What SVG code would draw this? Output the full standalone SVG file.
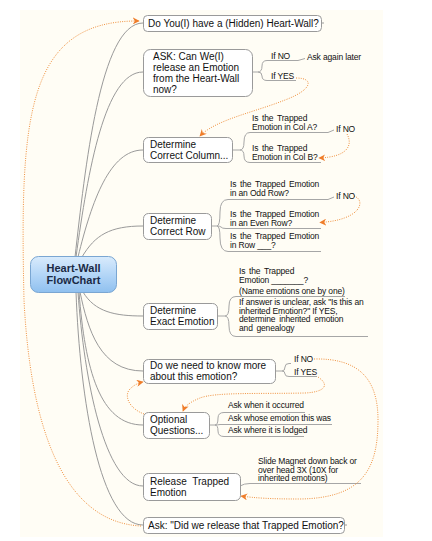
<svg xmlns="http://www.w3.org/2000/svg" width="432" height="541" viewBox="0 0 432 541">
<defs>
<linearGradient id="cg" x1="0" y1="0" x2="0" y2="1">
<stop offset="0" stop-color="#d9ebfc"/>
<stop offset="0.5" stop-color="#b4d6f7"/>
<stop offset="1" stop-color="#8fc0ef"/>
</linearGradient>
<marker id="oa" viewBox="0 0 10 10" refX="9" refY="5" markerWidth="7" markerHeight="7" markerUnits="userSpaceOnUse" orient="auto">
<path d="M0,0 L10,5 L0,10 L3,5 Z" fill="#ef7d2a"/>
</marker>
</defs>
<style>
.box{fill:#ffffff;stroke:#9a9a9a;stroke-width:1}
.nt{font-family:"Liberation Sans",Arial,sans-serif;font-size:10px;fill:#111}
.st{font-family:"Liberation Sans",Arial,sans-serif;font-size:8.5px;fill:#111;letter-spacing:-0.15px}
.ln{fill:none;stroke:#9a9a9a;stroke-width:1}
.ul{fill:none;stroke:#a6a6a6;stroke-width:1}
.od{fill:none;stroke:#f0913f;stroke-width:1;stroke-dasharray:1 1.3}
.ct{font-family:"Liberation Sans",Arial,sans-serif;font-size:11px;font-weight:bold;fill:#1b2a44;text-anchor:middle}
</style>
<rect x="0" y="0" width="432" height="541" fill="#ffffff"/>
<rect x="20" y="10" width="363" height="527" fill="#fffdf5"/>

<g id="connectors">
<path class="ln" d="M75,257 C85,170 100,23 143,23"/>
<path class="ln" d="M76,257 C88,170 105,72 143,72"/>
<path class="ln" d="M78,257 C92,200 110,150 143,150"/>
<path class="ln" d="M82,257 C95,235 110,226 143,226"/>
<path class="ln" d="M83,292 C95,312 115,316 143,316"/>
<path class="ln" d="M80,292 C88,330 100,371 143,371"/>
<path class="ln" d="M79,292 C85,370 100,425 143,425"/>
<path class="ln" d="M78,292 C84,380 105,486 143,486"/>
<path class="ln" d="M76,292 C80,400 100,525 143,525"/>
<path class="ln" d="M321,23 L324,23"/>
<path class="ln" d="M344,525 L347,525"/>
<path class="ul" d="M252,72 L258,72 Q262,72 262,66 Q262,60.5 267,60.5 L298,60.5 L305,58.5"/>
<path class="ul" d="M258,72 Q262,72 262,76 Q262,80.5 267,80.5 L296,80.5"/>
<path class="ul" d="M233,150 L240,150 Q244,150 244,142 Q244,132.5 250,132.5 L328,132.5 L334,130"/>
<path class="ul" d="M240,150 Q244,150 244,156 Q244,162.5 250,162.5 L321,162.5"/>
<path class="ul" d="M211,226 L217,226 Q220,226 220,212 Q220,199.5 228,199.5 L328,199.5 L334,197"/>
<path class="ul" d="M217,226 Q220,226 221,227 Q222,228.5 226,228.5 L321,228.5"/>
<path class="ul" d="M217,226 Q220,226 220,238 Q220,251.5 228,251.5 L321,251.5"/>
<path class="ul" d="M218,316 L225,316 Q229,316 229,306 Q229,296.5 236,296.5 L345,296.5"/>
<path class="ul" d="M225,316 Q229,316 229,326 Q229,336.5 236,336.5 L368,336.5"/>
<path class="ul" d="M276,371 L282,371 Q285,371 285,367 Q285,363.5 289,363.5 L291,363.5"/>
<path class="ul" d="M282,371 Q285,371 285,374 Q285,376.5 289,376.5 L317,376.5"/>
<path class="ul" d="M209,425 L215,425 Q218,425 218,418 Q218,412.5 224,412.5 L305,412.5"/>
<path class="ul" d="M215,425 Q218,425 220,424.5 L332,424.5"/>
<path class="ul" d="M215,425 Q218,425 218,431 Q218,436.5 224,436.5 L304,436.5"/>
<path class="ul" d="M240,486 Q244,483.5 250,483.5 L361,483.5"/>
<path class="od" marker-end="url(#oa)" d="M141,526 C60,522 30,420 24,300 C20,120 25,20 139,21"/>
<path class="od" marker-end="url(#oa)" d="M296,78 C315,78 312,90 285,100 C255,112 215,120 200,136"/>
<path class="od" marker-end="url(#oa)" d="M347,134 C353,145 348,157 319,158"/>
<path class="od" marker-end="url(#oa)" d="M354,196 C366,200 362,220 320,222.5"/>
<path class="od" marker-end="url(#oa)" d="M314,359 C360,358 378,380 378,420 C378,470 362,498 300,499 C270,499 255,498 241,496"/>
<path class="od" marker-end="url(#oa)" d="M318,377 C330,385 325,392 305,393 C260,394 215,392 200,398 C190,402 185,406 183,411"/>
<path class="od" marker-end="url(#oa)" d="M144,414 C128,408 124,395 130,389 C134,385 138,383 143,382"/>
</g>

<g id="central">
<rect x="30.5" y="256.5" width="86" height="36" rx="8" fill="url(#cg)" stroke="#7aa6d2" stroke-width="1"/>
<text class="ct" x="73.5" y="272">Heart-Wall</text>
<text class="ct" x="73.5" y="284">FlowChart</text>
</g>

<g id="n1">
<rect class="box" x="143.5" y="15.5" width="178" height="16" rx="4"/>
<text class="nt" x="148" y="27">Do You(I) have a (Hidden) Heart-Wall?</text>
</g>

<g id="n2">
<rect class="box" x="143.5" y="49.5" width="109" height="47" rx="7"/>
<text class="nt" x="153" y="59.5">ASK: Can We(I)</text>
<text class="nt" x="153" y="70.5">release an Emotion</text>
<text class="nt" x="153" y="81.5">from the Heart-Wall</text>
<text class="nt" x="153" y="92.5">now?</text>
<text class="st" x="271" y="58.5">If NO</text>
<text class="st" x="307" y="60">Ask again later</text>
<text class="st" x="271" y="78.5">If YES</text>
</g>

<g id="n3">
<rect class="box" x="143.5" y="137.5" width="89" height="25" rx="5"/>
<text class="nt" x="150" y="147.5">Determine</text>
<text class="nt" x="150" y="158.5">Correct Column...</text>
<text class="st" x="252" y="120.5" word-spacing="1.5">Is the Trapped</text>
<text class="st" x="252" y="129.5">Emotion in Col A?</text>
<text class="st" x="336" y="131.5">If NO</text>
<text class="st" x="252" y="150.5" word-spacing="1.5">Is the Trapped</text>
<text class="st" x="252" y="159.5">Emotion in Col B?</text>
</g>

<g id="n4">
<rect class="box" x="143.5" y="213.5" width="68" height="26" rx="5"/>
<text class="nt" x="150" y="224">Determine</text>
<text class="nt" x="150" y="235">Correct Row</text>
<text class="st" x="230" y="187" word-spacing="1.5">Is the Trapped Emotion</text>
<text class="st" x="230" y="196">in an Odd Row?</text>
<text class="st" x="336" y="198.5">If NO</text>
<text class="st" x="230" y="217" word-spacing="1.5">Is the Trapped Emotion</text>
<text class="st" x="230" y="225.5">in an Even Row?</text>
<text class="st" x="230" y="239" word-spacing="1.5">Is the Trapped Emotion</text>
<text class="st" x="230" y="247.5">in Row ___?</text>
</g>

<g id="n5">
<rect class="box" x="143.5" y="303.5" width="74" height="26" rx="5"/>
<text class="nt" x="150" y="313.5">Determine</text>
<text class="nt" x="150" y="324.5">Exact Emotion</text>
<text class="st" x="239" y="273.5" word-spacing="1.5">Is the Trapped</text>
<text class="st" x="239" y="283">Emotion  _______?</text>
<text class="st" x="239" y="293.5">(Name emotions one by one)</text>
<text class="st" x="239" y="305">If answer is unclear, ask "Is this an</text>
<text class="st" x="239" y="313.5">inherited Emotion?" If YES,</text>
<text class="st" x="239" y="322" word-spacing="1.5">determine inherited emotion</text>
<text class="st" x="239" y="330.5" word-spacing="1.5">and genealogy</text>
</g>

<g id="n6">
<rect class="box" x="143.5" y="359.5" width="132" height="24" rx="5"/>
<text class="nt" x="150" y="368.5">Do we need to know more</text>
<text class="nt" x="150" y="379.5">about this emotion?</text>
<text class="st" x="294" y="361.5">If NO</text>
<text class="st" x="294" y="374.5">If YES</text>
</g>

<g id="n7">
<rect class="box" x="143.5" y="412.5" width="66" height="26" rx="5"/>
<text class="nt" x="150" y="423">Optional</text>
<text class="nt" x="150" y="434">Questions...</text>
<text class="st" x="228" y="407.5">Ask when it occurred</text>
<text class="st" x="228" y="420.5">Ask whose emotion this was</text>
<text class="st" x="228" y="432.5">Ask where it is lodged</text>
</g>

<g id="n8">
<rect class="box" x="143.5" y="473.5" width="97" height="27" rx="5"/>
<text class="nt" x="150" y="484.5" word-spacing="3">Release Trapped</text>
<text class="nt" x="150" y="495.5">Emotion</text>
<text class="st" x="258" y="464">Slide Magnet down back or</text>
<text class="st" x="258" y="472.5">over head 3X (10X for</text>
<text class="st" x="258" y="481">inherited emotions)</text>
</g>

<g id="n9">
<rect class="box" x="143.5" y="517.5" width="201" height="16" rx="4"/>
<text class="nt" x="148" y="529">Ask: "Did we release that Trapped Emotion?</text>
</g>
</svg>
